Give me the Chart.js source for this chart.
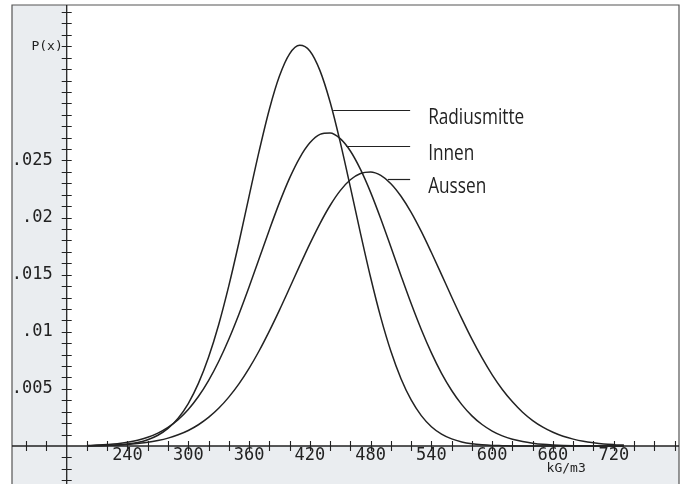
<!DOCTYPE html>
<html>
<head>
<meta charset="utf-8">
<script src="https://cdn.jsdelivr.net/npm/chart.js@4.4.0/dist/chart.umd.min.js"></script>
<style>
  html, body { margin: 0; padding: 0; background: #fff; }
</style>
</head>
<body>
<canvas id="chart" width="682" height="484"></canvas>
<script>
// density in kG/m3 (200..730, every 10), P(x) values
const xValues = [200, 210, 220, 230, 240, 250, 260, 270, 280, 290, 300, 310, 320, 330,
                 340, 350, 360, 370, 380, 390, 400, 410, 420, 430, 440, 450, 460, 470,
                 480, 490, 500, 510, 520, 530, 540, 550, 560, 570, 580, 590, 600, 610,
                 620, 630, 640, 650, 660, 670, 680, 690, 700, 710, 720, 730];
const radiusmitte = [0.00001, 0.00002, 0.00005, 0.00009, 0.00017, 0.00031, 0.00055, 0.00094,
                     0.00154, 0.00244, 0.00372, 0.00548, 0.00777, 0.01062, 0.01402, 0.01782,
                     0.02186, 0.02584, 0.02947, 0.03239, 0.03434, 0.03509, 0.03459, 0.03287,
                     0.03012, 0.02661, 0.02267, 0.01862, 0.01475, 0.01126, 0.00829, 0.00589,
                     0.00403, 0.00266, 0.00169, 0.00104, 0.00062, 0.00035, 0.00019, 0.00010,
                     0.00005, 0.00003, 0.00001, 0.00001, 0, 0, 0, 0, 0, 0, 0, 0, 0, 0];
const innen = [0.00004, 0.00008, 0.00013, 0.00020, 0.00032, 0.00050, 0.00076, 0.00113,
               0.00163, 0.00231, 0.00320, 0.00433, 0.00573, 0.00740, 0.00935, 0.01154,
               0.01392, 0.01642, 0.01892, 0.02131, 0.02346, 0.02524, 0.02655, 0.02729,
               0.02741, 0.02691, 0.02583, 0.02422, 0.02221, 0.01990, 0.01742, 0.01491,
               0.01247, 0.01020, 0.00815, 0.00636, 0.00486, 0.00362, 0.00264, 0.00188,
               0.00131, 0.00089, 0.00059, 0.00039, 0.00025, 0.00015, 0.00009, 0.00005,
               0.00003, 0.00002, 0.00001, 0.00001, 0, 0];
const aussen = [0.00002, 0.00004, 0.00006, 0.00009, 0.00014, 0.00022, 0.00032, 0.00048,
                0.00069, 0.00098, 0.00136, 0.00186, 0.00250, 0.00330, 0.00428, 0.00544,
                0.00680, 0.00834, 0.01006, 0.01190, 0.01383, 0.01579, 0.01770, 0.01948,
                0.02106, 0.02236, 0.02331, 0.02386, 0.02399, 0.02369, 0.02297, 0.02187,
                0.02046, 0.01879, 0.01694, 0.01501, 0.01305, 0.01115, 0.00935, 0.00771,
                0.00623, 0.00495, 0.00387, 0.00296, 0.00223, 0.00165, 0.00120, 0.00085,
                0.00060, 0.00041, 0.00028, 0.00018, 0.00012, 0.00008];
const seriesNames = ['Radiusmitte', 'Innen', 'Aussen'];
const xTickLabels = [240, 300, 360, 420, 480, 540, 600, 660, 720];
const yTickLabels = [0.005, 0.01, 0.015, 0.02, 0.025];
const xUnit = 'kG/m3';
const yTitle = 'P(x)';

// where each leader line touches its curve (data units)
const leaderAnchors = [[443, 0.0294], [456, 0.0263], [497, 0.0234]];

const ink = '#222';
const mono = '"DejaVu Sans Mono", monospace';

function toPoints(vals) {
  return vals.map((v, i) => ({ x: xValues[i], y: v }));
}

const axesPlugin = {
  id: 'plotterAxes',
  beforeDatasetsDraw(chart) {
    const ctx = chart.ctx;
    const a = chart.chartArea;
    const xs = chart.scales.x, ys = chart.scales.y;
    const ax = xs.getPixelForValue(180);
    const by = ys.getPixelForValue(0);
    ctx.save();
    // shaded margins left of and below the axes
    ctx.fillStyle = '#eaedf0';
    ctx.fillRect(a.left, a.top, ax - a.left, a.bottom - a.top);
    ctx.fillRect(ax, by, a.right - ax, a.bottom - by);
    // frame
    ctx.strokeStyle = '#555';
    ctx.lineWidth = 1.2;
    ctx.beginPath();
    ctx.moveTo(a.left, a.bottom);
    ctx.lineTo(a.left, a.top);
    ctx.lineTo(a.right, a.top);
    ctx.lineTo(a.right, a.bottom);
    ctx.stroke();
    // axes
    ctx.strokeStyle = ink;
    ctx.lineWidth = 1.3;
    ctx.beginPath();
    ctx.moveTo(ax, a.top); ctx.lineTo(ax, a.bottom);
    ctx.moveTo(a.left, by); ctx.lineTo(a.right, by);
    ctx.stroke();
    // crossing tick marks
    ctx.lineWidth = 1.1;
    ctx.beginPath();
    for (let k = -3; k <= 38; k++) {
      if (k === 0) continue;
      const py = Math.round(ys.getPixelForValue(k / 1000)) + 0.5;
      ctx.moveTo(ax - 5, py); ctx.lineTo(ax + 5, py);
    }
    for (let v = 140; v <= 780; v += 20) {
      if (v === 180) continue;
      const px = Math.round(xs.getPixelForValue(v)) + 0.5;
      ctx.moveTo(px, by - 5); ctx.lineTo(px, by + 5);
    }
    ctx.stroke();
    // tick labels
    ctx.fillStyle = ink;
    ctx.font = '17px ' + mono;
    ctx.textAlign = 'center';
    ctx.textBaseline = 'middle';
    xTickLabels.forEach(v => {
      ctx.fillText(String(v), xs.getPixelForValue(v), by + 10);
    });
    ctx.textAlign = 'right';
    yTickLabels.forEach(v => {
      ctx.fillText(String(v).replace(/^0/, ''), ax - 14, ys.getPixelForValue(v));
    });
    ctx.font = '13px ' + mono;
    ctx.fillText(yTitle, ax - 4, ys.getPixelForValue(0.035));
    ctx.textAlign = 'center';
    ctx.fillText(xUnit, xs.getPixelForValue(673), by + 23);
    ctx.restore();
  },
  afterDatasetsDraw(chart) {
    const ctx = chart.ctx;
    const xs = chart.scales.x, ys = chart.scales.y;
    const endX = xs.getPixelForValue(519);
    ctx.save();
    ctx.strokeStyle = ink;
    ctx.fillStyle = ink;
    ctx.lineWidth = 1.2;
    ctx.font = '21px "Open Sans", sans-serif';
    ctx.textAlign = 'left';
    ctx.textBaseline = 'alphabetic';
    leaderAnchors.forEach((p, i) => {
      const px = xs.getPixelForValue(p[0]);
      const py = Math.round(ys.getPixelForValue(p[1])) + 0.5;
      ctx.beginPath();
      ctx.moveTo(px, py); ctx.lineTo(endX, py);
      ctx.stroke();
      ctx.save();
      ctx.translate(endX + 18, py + 13);
      ctx.scale(0.82, 1);
      ctx.fillText(seriesNames[i], 0, 0);
      ctx.restore();
    });
    ctx.restore();
  }
};

new Chart(document.getElementById('chart'), {
  type: 'line',
  data: {
    datasets: [
      { label: seriesNames[0], data: toPoints(radiusmitte) },
      { label: seriesNames[1], data: toPoints(innen) },
      { label: seriesNames[2], data: toPoints(aussen) }
    ].map(d => Object.assign(d, {
      borderColor: ink, borderWidth: 1.5, pointRadius: 0,
      cubicInterpolationMode: 'monotone', fill: false
    }))
  },
  options: {
    responsive: false,
    animation: false,
    layout: { padding: { left: 12, top: 5, right: 3, bottom: 0 } },
    plugins: { legend: { display: false }, tooltip: { enabled: false } },
    scales: {
      x: { type: 'linear', min: 126, max: 784.4, display: false },
      y: { type: 'linear', min: -0.003328, max: 0.038616, display: false }
    }
  },
  plugins: [axesPlugin]
});
</script>
</body>
</html>
